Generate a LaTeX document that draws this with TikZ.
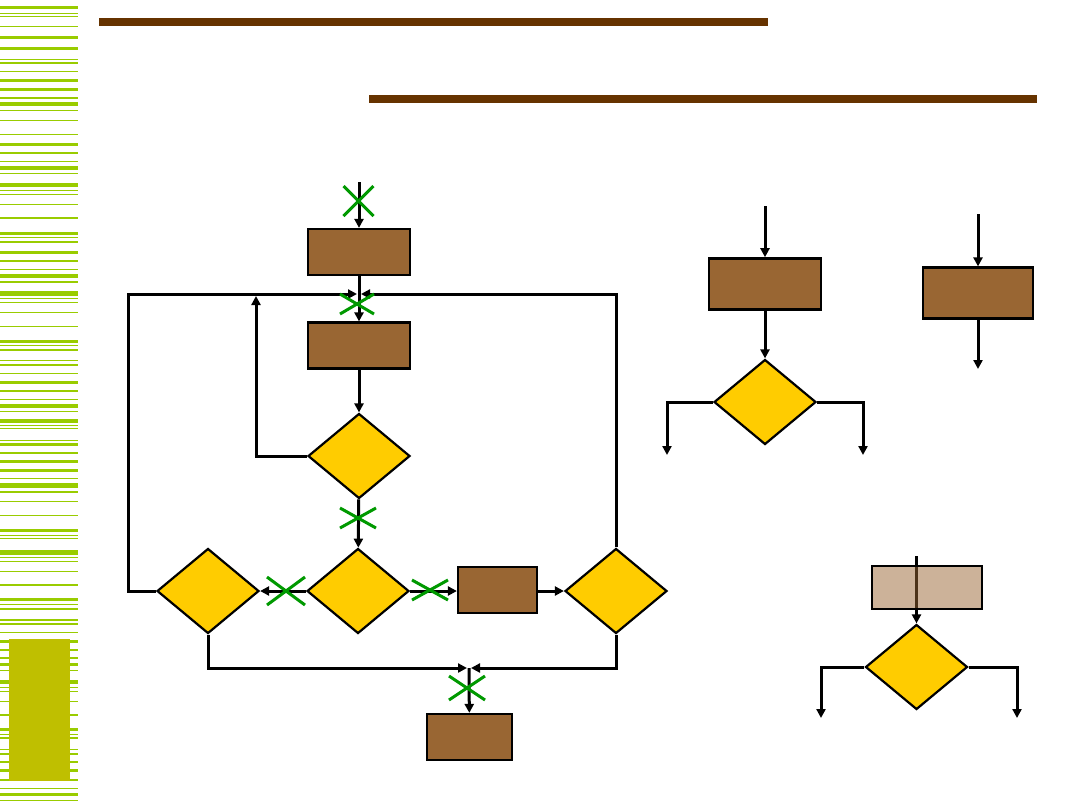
\documentclass[tikz,border=0pt]{standalone}
\usepackage{tikz}
\usetikzlibrary{positioning,calc}
\usetikzlibrary{arrows.meta,shapes.geometric}
\definecolor{BarBrown}{RGB}{102,51,0}
\definecolor{BoxBrown}{RGB}{153,102,51}
\definecolor{DecYellow}{RGB}{255,204,0}
\definecolor{StripeGreen}{RGB}{153,204,0}
\definecolor{MarkOlive}{RGB}{191,191,0}
\definecolor{CutGreen}{RGB}{0,153,0}
\tikzset{box/.style={rectangle,draw=black,fill=BoxBrown,line width=1.1pt,inner sep=0pt,minimum width=51pt,minimum height=23pt}, dec/.style={diamond,draw=black,fill=DecYellow,line width=1.1pt,inner sep=0pt,minimum width=51pt,minimum height=42.5pt}, flow/.style={draw=black,line width=1.5pt,-{Triangle[length=4.5pt,width=4.5pt]}}, cut/.style={draw=CutGreen,line width=1.5pt}, bar/.style={fill=BarBrown}}

\begin{document}
\begin{tikzpicture}[x=0.5pt,y=-0.5pt]
\useasboundingbox (0,0) rectangle (1080,810);
% side stripes
\foreach \sy/\sw in {7.5/3.5,13.3/1,16.3/1.5,26.7/1.5,37.7/3.5,48.3/2.5,59.3/1,63/2.5,71.3/1.5,80.7/3,89.3/2.5,98/1.5,104/4,110.7/1.5,120.7/1.5,134.3/1,144.3/2.5,152.7/2,161.3/1,168/4,173.7/1.5,185/4,190.3/1,194/1,204.3/1,217.7/2,233.3/2.5,237.3/1,241.7/2,252.3/2.5,260.7/2,269.3/1,276/4,282/1.5,293.3/4.5,298.3/1,302.3/1,312.3/1,326.3/1,341.3/2.5,345.3/1,350/2,360.7/1.5,365/2,373.3/1,382.3/3,390.7/2,399.3/1,406/4,411.7/1.5,421/3.5,425.3/1,428.7/1.5,440.3/1,444.3/2.5,452.7/2,461.7/3.5,470.3/2.5,478.3/1,485.3/4.5,492/1.5,501.7/1.5,515.3/1,530.7/3.5,535.3/1,538.7/1.5,552.3/4.5,557.3/1,561.3/1,571.3/1,584.7/2,599.7/3.5,604.3/1,608.7/2,619.7/2,623.7/2,632.3/1,641/3,649.7/2,657.7/2,664.7/3.5,670.7/1.5,682/4.5,687.3/1,691.3/1,701.3/1,714.7/2,729.7/3.5,734/1,738.3/2,749/1,753.7/2,761.7/2,770.7/3,779.7/2,788.3/1,794.7/3.5,800.3/1.5}
  \fill[StripeGreen] (0,\sy-\sw/2) rectangle (78,\sy+\sw/2);
\fill[MarkOlive] (9,639) rectangle (70,781);
% title bars
\fill[bar] (99,18) rectangle (768,26);
\fill[bar] (369,95) rectangle (1037,103);
% left flowchart
\node[box] (ba) at (359,252) {};
\node[box] (bb) at (359,345.5) {};
\node[dec] (da) at (359,456) {};
\node[dec] (db) at (358,591) {};
\node[dec] (dc) at (208,591) {};
\node[box,minimum width=39.5pt] (bc) at (497.5,590) {};
\node[dec] (dd) at (616,591) {};
\node[box,minimum width=42.5pt] (be) at (469.5,737) {};
\coordinate (ina) at (359,182);
\coordinate (ja) at (359,294);
\coordinate (ka) at (128,294);
\coordinate (kb) at (256,296);
\coordinate (jb) at (469,668);
\draw[flow] (ina) -- (ba);
\draw[flow] (ba) -- (bb);
\draw[flow] (dc.west) -| (ka) -- ([xshift=-1pt]ja);
\draw[flow] (da.west) -| (kb);
\draw[flow] (dd.north) |- ([xshift=1pt]ja);
\draw[flow] (bb) -- (da);
\draw[flow] (da) -- (db);
\draw[flow] (db) -- (dc);
\draw[flow] (db.east) -- (bc.west |- db.east);
\draw[flow] (bc.east |- dd.west) -- (dd.west);
\draw[flow] (dc.south) |- ([xshift=-1pt]jb);
\draw[flow] (dd.south) |- ([xshift=1pt]jb);
\draw[flow] (jb) -- (be);
% crossed out links
\foreach \cx/\cy/\hw/\hh in {358.5/201/15/15,357/304/17/10,358/518/18/10,286/591/19/14,430/590/18/10,467/688/18/12}{
  \draw[cut] (\cx-\hw,\cy-\hh) -- (\cx+\hw,\cy+\hh);
  \draw[cut] (\cx-\hw,\cy+\hh) -- (\cx+\hw,\cy-\hh);
}
% right examples
\node[box,line width=1.3pt,minimum width=56pt,minimum height=25.5pt] (bf) at (765,284) {};
\node[dec] (df) at (765,402) {};
\node[box,minimum width=55pt,minimum height=25.5pt] (bg) at (978,293) {};
\node[dec] (dg) at (916.5,667) {};
\coordinate (inb) at (765,206);
\coordinate (oa) at (667,455);
\coordinate (ob) at (863,455);
\coordinate (inc) at (978,214);
\coordinate (oc) at (978,369);
\coordinate (ind) at (916.5,556);
\coordinate (od) at (821,718);
\coordinate (oe) at (1017,718);
\draw[flow] (inb) -- (bf);
\draw[flow] (bf) -- (df);
\draw[flow] (df.west) -| (oa);
\draw[flow] (df.east) -| (ob);
\draw[flow] (inc) -- (bg);
\draw[flow] (bg) -- (oc);
\draw[flow] (ind) -- (dg.north);
\draw[flow] (dg.west) -| (od);
\draw[flow] (dg.east) -| (oe);
\node[box,fill opacity=0.5,minimum width=55pt,minimum height=21.5pt] (bh) at (927,587.5) {};
\end{tikzpicture}
\end{document}
